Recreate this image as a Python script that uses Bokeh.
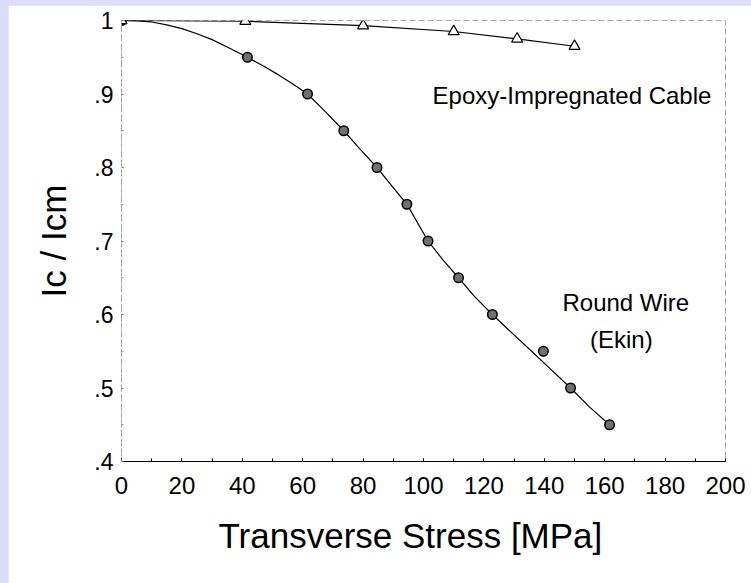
from bokeh.plotting import figure
from bokeh.models import Label, Title, CustomJSTickFormatter, FixedTicker, Range1d
from bokeh.layouts import column
from bokeh.embed import file_html
from bokeh.resources import INLINE

# ---- data ----
wire_x = [0, 41.7, 61.6, 73.6, 84.6, 94.5, 101.5, 111.6, 122.8, 139.7, 148.7, 161.6]
wire_y = [1.0, 0.95, 0.90, 0.85, 0.80, 0.75, 0.70, 0.65, 0.60, 0.55, 0.50, 0.45]

wire_fit_x = [0, 5, 10, 15, 20, 25, 30, 35, 41.7, 47, 52, 57, 61.6, 67, 73.6, 79, 84.6,
              89.5, 94.5, 98, 101.5, 106.5, 111.6, 117, 122.8, 129, 135, 142, 148.7, 155, 161.6]
wire_fit_y = [1.0, 0.9995, 0.998, 0.994, 0.989, 0.982, 0.974, 0.964, 0.95, 0.938, 0.926, 0.913,
              0.90, 0.878, 0.85, 0.825, 0.80, 0.775, 0.75, 0.725, 0.70, 0.674, 0.65, 0.624,
              0.60, 0.576, 0.553, 0.526, 0.50, 0.474, 0.45]

cable_x = [0, 41, 80, 110, 131, 150]
cable_y = [1.0, 0.999, 0.993, 0.985, 0.975, 0.965]

x_ticks = [0, 20, 40, 60, 80, 100, 120, 140, 160, 180, 200]
y_ticks = [0.4, 0.5, 0.6, 0.7, 0.8, 0.9, 1.0]

FONT = "Liberation Sans"

p = figure(width=743, height=578, output_backend="svg", toolbar_location=None,
           x_range=Range1d(0, 200), y_range=Range1d(0.4, 1.0),
           min_border_left=113, min_border_right=26, min_border_top=15, min_border_bottom=122,
           background_fill_color="white", border_fill_color="white")
p.grid.visible = False
p.outline_line_color = "#aaaaaa"
p.outline_line_dash = "6 3"
p.outline_line_width = 1

# x axis
xa = p.xaxis[0]
xa.ticker = FixedTicker(ticks=x_ticks, minor_ticks=list(range(0, 201, 10)))
xa.axis_line_color = "black"
xa.axis_line_width = 1
xa.major_tick_in = 3
xa.major_tick_out = 0
xa.minor_tick_in = 3
xa.minor_tick_out = 0
xa.major_label_standoff = 15
xa.major_label_text_font = FONT
xa.major_label_text_font_size = "24px"
xa.major_label_text_color = "black"

# x-axis title as a bottom Title, aligned to match the reference offset
p.add_layout(Title(text="Transverse Stress [MPa]", align="left", offset=97,
                   text_font=FONT, text_font_size="35px", text_font_style="normal",
                   text_color="black", standoff=34), "below")

# y axis
ya = p.yaxis[0]
ya.ticker = FixedTicker(ticks=y_ticks, minor_ticks=[0.45, 0.55, 0.65, 0.75, 0.85, 0.95])
ya.formatter = CustomJSTickFormatter(code="return tick > 0.999 ? '1' : tick.toFixed(1).replace(/^0/, '');")
ya.axis_line_color = "#999999"
ya.axis_line_dash = "2 3"
ya.major_tick_in = 2
ya.major_tick_out = 0
ya.minor_tick_in = 2
ya.minor_tick_out = 0
ya.major_tick_line_color = "#777777"
ya.minor_tick_line_color = "#999999"
ya.major_label_standoff = 8
ya.major_label_text_font = FONT
ya.major_label_text_font_size = "23px"
ya.major_label_text_color = "black"
ya.axis_label = "Ic / Icm"
ya.axis_label_text_font = FONT
ya.axis_label_text_font_size = "35px"
ya.axis_label_text_font_style = "normal"
ya.axis_label_text_color = "black"
ya.axis_label_standoff = 18

# curves
p.line(wire_fit_x, wire_fit_y, line_color="black", line_width=1.2)
p.line(cable_x, cable_y, line_color="black", line_width=1.2)

# markers
p.scatter(wire_x, wire_y, marker="circle", size=9.5, fill_color="#707070",
          line_color="black", line_width=1.5)
p.scatter(cable_x, cable_y, marker="triangle", size=11, fill_color="white",
          line_color="black", line_width=1.2)

# annotations
p.add_layout(Label(x=103, y=0.898, text="Epoxy-Impregnated Cable", text_font=FONT,
                   text_font_size="24px", text_baseline="middle", text_align="left",
                   text_color="black"))
p.add_layout(Label(x=167, y=0.616, text="Round Wire", text_font=FONT,
                   text_font_size="24px", text_baseline="middle", text_align="center",
                   text_color="black"))
p.add_layout(Label(x=165.5, y=0.566, text="(Ekin)", text_font=FONT,
                   text_font_size="24px", text_baseline="middle", text_align="center",
                   text_color="black"))

layout = column(p, styles={"background-color": "#dcdcfc", "padding": "5px 0px 0px 8px"})

open("out.html", "w").write(file_html(layout, INLINE))
